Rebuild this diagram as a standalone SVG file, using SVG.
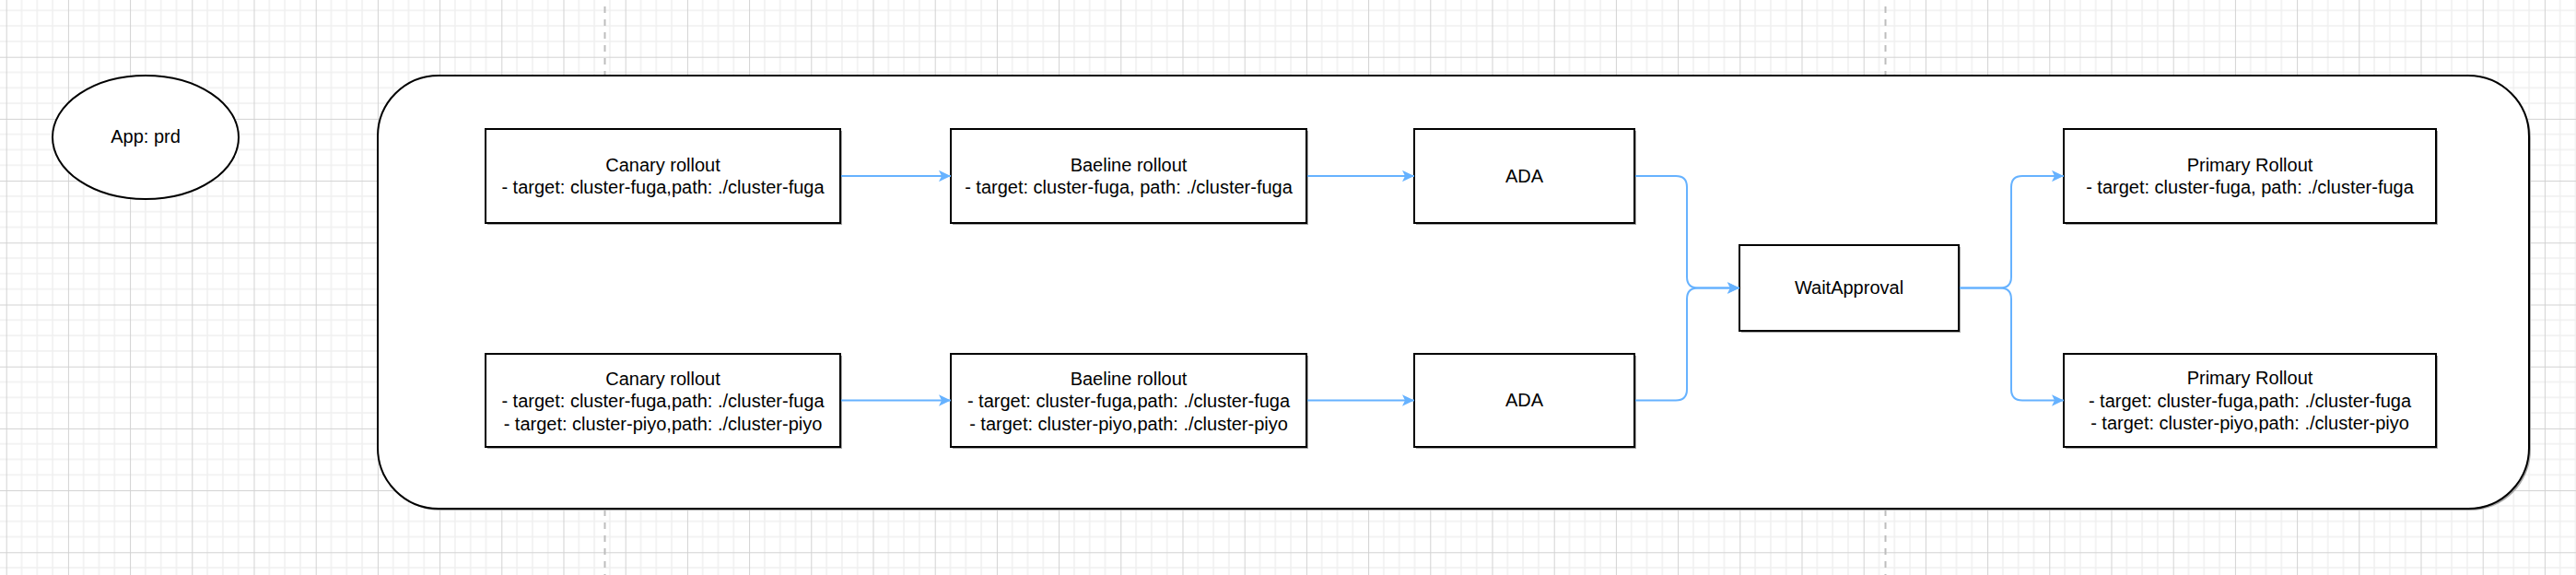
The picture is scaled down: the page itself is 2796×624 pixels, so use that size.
<svg xmlns="http://www.w3.org/2000/svg" width="2796" height="624" viewBox="0 0 2796 624">
  <style>
    .box { fill: #ffffff; stroke: #000000; stroke-width: 2; }
    .shadow { fill: #a8a8a8; stroke: none; }
    .lbl { font-family: "Liberation Sans", Arial, Helvetica, sans-serif; font-size: 20px; fill: #000000; text-anchor: middle; }
    .edge { fill: none; stroke: #66B2FF; stroke-width: 2; marker-end: url(#arr); }
    .page { stroke: #bdbdbd; stroke-width: 2; stroke-dasharray: 7 7; fill: none; }
  </style>
  <defs>
    <pattern id="grid" patternUnits="userSpaceOnUse" x="6.7" y="61.7" width="67.2" height="67.2">
      <path d="M16.8,0 V67.2 M33.6,0 V67.2 M50.4,0 V67.2 M0,16.8 H67.2 M0,33.6 H67.2 M0,50.4 H67.2" stroke="#efefef" stroke-width="1.5" fill="none"/>
      <path d="M0.5,0 V67.2 M0,0.5 H67.2" stroke="#d2d2d2" stroke-width="1" fill="none"/>
    </pattern>
    <marker id="arr" markerUnits="userSpaceOnUse" markerWidth="13" markerHeight="12.4" refX="13" refY="6.2" orient="auto">
      <path d="M0,0 L13,6.2 L0,12.4 L3,6.2 Z" fill="#66B2FF"/>
    </marker>
  </defs>

  <rect x="0" y="0" width="2796" height="624" fill="#ffffff"/>
  <rect x="0" y="0" width="2796" height="624" fill="url(#grid)"/>
  <path class="page" d="M656.5,7 V624 M2046.5,7 V624"/>

  <g id="container">
    <rect class="shadow" x="412" y="84" width="2335" height="470" rx="66" ry="66"/>
    <rect class="box" x="410" y="82" width="2335" height="470" rx="66" ry="66"/>
  </g>

  <g id="app-prd">
    <ellipse cx="158" cy="149" rx="101" ry="67" fill="#ffffff" stroke="#000000" stroke-width="2"/>
    <text class="lbl" x="158" y="155">App: prd</text>
  </g>

  <g id="canary1">
    <rect class="shadow" x="529" y="142" width="385" height="102"/>
    <rect class="box" x="527" y="140" width="385" height="102"/>
    <text class="lbl" x="719.5" y="186">Canary rollout</text>
    <text class="lbl" x="719.5" y="210">- target: cluster-fuga,path: ./cluster-fuga</text>
  </g>

  <g id="baseline1">
    <rect class="shadow" x="1034" y="142" width="386" height="102"/>
    <rect class="box" x="1032" y="140" width="386" height="102"/>
    <text class="lbl" x="1225" y="186">Baeline rollout</text>
    <text class="lbl" x="1225" y="210">- target: cluster-fuga, path: ./cluster-fuga</text>
  </g>

  <g id="ada1">
    <rect class="shadow" x="1537" y="142" width="239" height="102"/>
    <rect class="box" x="1535" y="140" width="239" height="102"/>
    <text class="lbl" x="1654.5" y="197.5">ADA</text>
  </g>

  <g id="canary2">
    <rect class="shadow" x="529" y="386" width="385" height="101"/>
    <rect class="box" x="527" y="384" width="385" height="101"/>
    <text class="lbl" x="719.5" y="417.5">Canary rollout</text>
    <text class="lbl" x="719.5" y="442">- target: cluster-fuga,path: ./cluster-fuga</text>
    <text class="lbl" x="719.5" y="466.5">- target: cluster-piyo,path: ./cluster-piyo</text>
  </g>

  <g id="baseline2">
    <rect class="shadow" x="1034" y="386" width="386" height="101"/>
    <rect class="box" x="1032" y="384" width="386" height="101"/>
    <text class="lbl" x="1225" y="417.5">Baeline rollout</text>
    <text class="lbl" x="1225" y="442">- target: cluster-fuga,path: ./cluster-fuga</text>
    <text class="lbl" x="1225" y="466.5">- target: cluster-piyo,path: ./cluster-piyo</text>
  </g>

  <g id="ada2">
    <rect class="shadow" x="1537" y="386" width="239" height="101"/>
    <rect class="box" x="1535" y="384" width="239" height="101"/>
    <text class="lbl" x="1654.5" y="441">ADA</text>
  </g>

  <g id="wait-approval">
    <rect class="shadow" x="1890" y="268" width="238" height="93"/>
    <rect class="box" x="1888" y="266" width="238" height="93"/>
    <text class="lbl" x="2007" y="319">WaitApproval</text>
  </g>

  <g id="primary1">
    <rect class="shadow" x="2242" y="142" width="404" height="102"/>
    <rect class="box" x="2240" y="140" width="404" height="102"/>
    <text class="lbl" x="2442" y="185.5">Primary Rollout</text>
    <text class="lbl" x="2442" y="209.5">- target: cluster-fuga, path: ./cluster-fuga</text>
  </g>

  <g id="primary2">
    <rect class="shadow" x="2242" y="386" width="404" height="101"/>
    <rect class="box" x="2240" y="384" width="404" height="101"/>
    <text class="lbl" x="2442" y="417">Primary Rollout</text>
    <text class="lbl" x="2442" y="441.5">- target: cluster-fuga,path: ./cluster-fuga</text>
    <text class="lbl" x="2442" y="466">- target: cluster-piyo,path: ./cluster-piyo</text>
  </g>

  <g id="connectors">
    <path class="edge" d="M913,191 H1032"/>
    <path class="edge" d="M1419,191 H1535"/>
    <path class="edge" d="M913,434.5 H1032"/>
    <path class="edge" d="M1419,434.5 H1535"/>
    <path class="edge" d="M1775,191 H1819 Q1831,191 1831,203 V300.5 Q1831,312.5 1843,312.5 H1888"/>
    <path class="edge" d="M1775,434.5 H1819 Q1831,434.5 1831,422.5 V324.5 Q1831,312.5 1843,312.5 H1888"/>
    <path class="edge" d="M2127,312.5 H2171 Q2183,312.5 2183,300.5 V203 Q2183,191 2195,191 H2240"/>
    <path class="edge" d="M2127,312.5 H2171 Q2183,312.5 2183,324.5 V422.5 Q2183,434.5 2195,434.5 H2240"/>
  </g>
</svg>
